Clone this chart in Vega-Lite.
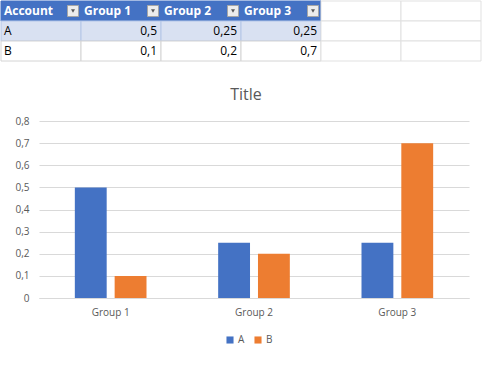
{
  "$schema": "https://vega.github.io/schema/vega-lite/v6.json",
  "padding": 0,
  "background": "white",
  "config": {"view": {"stroke": null}, "font": "Open Sans"},
  "columns": 1,
  "align": "none",
  "spacing": 25,
  "concat": [
    {
      "width": 480,
      "height": 60,
      "data": {"values": [
        {"row": "header", "col": "c1", "zone": "header", "kind": "head", "text": "Account"},
        {"row": "header", "col": "c2", "zone": "header", "kind": "head", "text": "Group 1"},
        {"row": "header", "col": "c3", "zone": "header", "kind": "head", "text": "Group 2"},
        {"row": "header", "col": "c4", "zone": "header", "kind": "head", "text": "Group 3"},
        {"row": "header", "col": "c5", "zone": "sheet", "kind": "none", "text": ""},
        {"row": "header", "col": "c6", "zone": "sheet", "kind": "none", "text": ""},
        {"row": "A", "col": "c1", "zone": "A", "kind": "label", "text": "A"},
        {"row": "A", "col": "c2", "zone": "A", "kind": "num", "text": "0,5"},
        {"row": "A", "col": "c3", "zone": "A", "kind": "num", "text": "0,25"},
        {"row": "A", "col": "c4", "zone": "A", "kind": "num", "text": "0,25"},
        {"row": "A", "col": "c5", "zone": "sheet", "kind": "none", "text": ""},
        {"row": "A", "col": "c6", "zone": "sheet", "kind": "none", "text": ""},
        {"row": "B", "col": "c1", "zone": "B", "kind": "label", "text": "B"},
        {"row": "B", "col": "c2", "zone": "B", "kind": "num", "text": "0,1"},
        {"row": "B", "col": "c3", "zone": "B", "kind": "num", "text": "0,2"},
        {"row": "B", "col": "c4", "zone": "B", "kind": "num", "text": "0,7"},
        {"row": "B", "col": "c5", "zone": "sheet", "kind": "none", "text": ""},
        {"row": "B", "col": "c6", "zone": "sheet", "kind": "none", "text": ""}
      ]},
      "encoding": {
        "x": {"field": "col", "type": "nominal", "scale": {"domain": ["c1","c2","c3","c4","c5","c6"], "range": [-38, 442], "paddingInner": 0, "paddingOuter": 0}, "axis": null},
        "y": {"field": "row", "type": "nominal", "scale": {"domain": ["header","A","B"], "paddingInner": 0, "paddingOuter": 0}, "axis": null}
      },
      "layer": [
        {
          "mark": {"type": "rect", "strokeWidth": 1},
          "encoding": {
            "fill": {"field": "zone", "type": "nominal", "scale": {"domain": ["header","A","B","sheet"], "range": ["#4472C4","#D9E1F2","#FFFFFF","#FFFFFF"]}, "legend": null},
            "stroke": {"field": "zone", "type": "nominal", "scale": {"domain": ["header","A","B","sheet"], "range": ["#4472C4","#B4C6E7","#D4D4D4","#E1E1E1"]}, "legend": null}
          }
        },
        {
          "transform": [{"filter": "datum.kind == 'head'"}],
          "mark": {"type": "point", "shape": "square", "size": 121, "filled": true, "fill": "#EDEDED", "stroke": "#A6A6A6", "strokeWidth": 1, "opacity": 1},
          "encoding": {"xOffset": {"value": 72}}
        },
        {
          "transform": [{"filter": "datum.kind == 'head'"}],
          "mark": {"type": "point", "shape": "triangle-down", "size": 16, "filled": true, "fill": "#595959", "opacity": 1},
          "encoding": {"xOffset": {"value": 72}}
        },
        {
          "transform": [{"filter": "datum.kind == 'head'"}],
          "mark": {"type": "text", "align": "left", "baseline": "middle", "dx": 3, "fontSize": 12, "fontWeight": "bold", "color": "white"},
          "encoding": {"x": {"field": "col", "type": "nominal", "bandPosition": 0}, "text": {"field": "text"}}
        },
        {
          "transform": [{"filter": "datum.kind == 'label'"}],
          "mark": {"type": "text", "align": "left", "baseline": "middle", "dx": 3, "fontSize": 12, "color": "black"},
          "encoding": {"x": {"field": "col", "type": "nominal", "bandPosition": 0}, "text": {"field": "text"}}
        },
        {
          "transform": [{"filter": "datum.kind == 'num'"}],
          "mark": {"type": "text", "align": "right", "baseline": "middle", "dx": -4, "fontSize": 12, "color": "black"},
          "encoding": {"x": {"field": "col", "type": "nominal", "bandPosition": 1}, "text": {"field": "text"}}
        }
      ]
    },
    {
      "title": {"text": "Title", "fontSize": 16, "fontWeight": "normal", "color": "#595959", "offset": 13, "dx": -8},
      "width": 430,
      "height": 177,
      "data": {"values": [
        {"account": "A", "group": "Group 1", "value": 0.5},
        {"account": "A", "group": "Group 2", "value": 0.25},
        {"account": "A", "group": "Group 3", "value": 0.25},
        {"account": "B", "group": "Group 1", "value": 0.1},
        {"account": "B", "group": "Group 2", "value": 0.2},
        {"account": "B", "group": "Group 3", "value": 0.7}
      ]},
      "mark": {"type": "bar"},
      "encoding": {
        "x": {"field": "group", "type": "nominal", "scale": {"paddingInner": 0.5, "paddingOuter": 0.25},
          "axis": {"title": null, "labelAngle": 0, "ticks": false, "domainColor": "#D9D9D9", "labelColor": "#595959", "labelFontSize": 10, "labelPadding": 9}},
        "xOffset": {"field": "account", "type": "nominal", "scale": {"paddingInner": 0.2, "paddingOuter": 0}},
        "y": {"field": "value", "type": "quantitative", "scale": {"domain": [0, 0.8], "nice": false},
          "axis": {"title": null, "values": [0, 0.1, 0.2, 0.3, 0.4, 0.5, 0.6, 0.7, 0.8],
            "labelExpr": "datum.value == 0 ? '0' : replace(format(datum.value, '.1f'), '.', ',')",
            "domain": false, "ticks": false, "gridColor": "#D9D9D9", "labelColor": "#595959", "labelFontSize": 10, "labelPadding": 10, "minExtent": 38}},
        "color": {"field": "account", "type": "nominal", "scale": {"domain": ["A","B"], "range": ["#4472C4","#ED7D31"]},
          "legend": {"orient": "none", "legendX": 186, "legendY": 334, "direction": "horizontal", "title": null, "symbolType": "square", "symbolSize": 50, "symbolStrokeWidth": 0, "labelColor": "#595959", "labelFontSize": 10, "labelOffset": 3, "columnPadding": 8, "padding": 0}}
      }
    }
  ]
}
